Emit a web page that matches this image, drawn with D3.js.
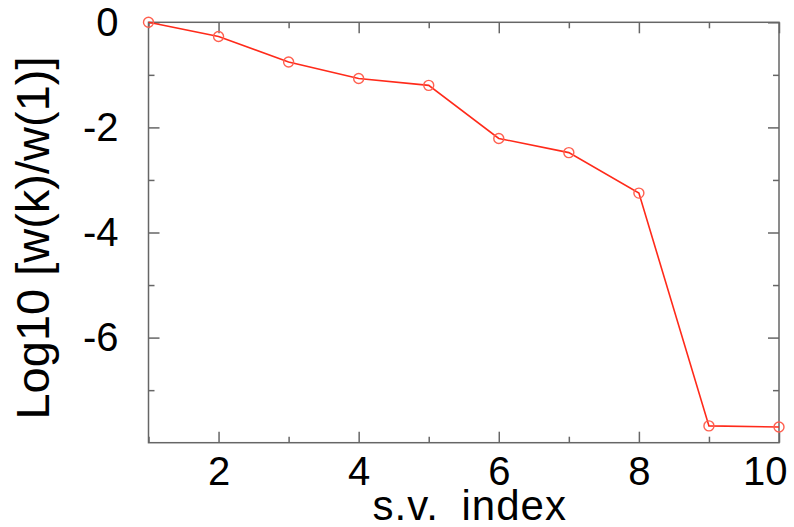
<!DOCTYPE html>
<html><head><meta charset="utf-8">
<script src="https://cdn.jsdelivr.net/npm/d3@7"></script>
<style>body{margin:0;background:#fff}svg{display:block}text{font-family:"Liberation Sans",Arial,sans-serif}</style>
</head><body><svg id="c" width="794" height="527"></svg>
<script>
const svIndex = [1,2,3,4,5,6,7,8,9,10];
const logRatio = [0,-0.27,-0.755,-1.07,-1.2,-2.21,-2.48,-3.25,-7.68,-7.70];
const xTicks = [2,4,6,8,10];
const xMinor = [1,3,5,7,9];
const yTicks = [0,-2,-4,-6];
const yMinor = [-1,-3,-5,-7];
const xLabel = "s.v. index";
const yLabel = "Log10 [w(k)/w(1)]";

const m = {l:148.5, r:779, t:22.3, b:442.7};
const svg = d3.select("#c");
const x = d3.scaleLinear().domain([1,10]).range([m.l,m.r]);
const y = d3.scaleLinear().domain([-8,0]).range([m.b,m.t]);
const axisCol = "#666";
const fmt = d => String(d);

function styleAxis(g){
  g.select(".domain").remove();
  g.selectAll(".tick line").attr("stroke",axisCol).attr("stroke-width",1.5);
}
// bottom
const bx = svg.append("g").attr("transform",`translate(0,${m.b})`)
  .call(d3.axisBottom(x).tickValues(xTicks).tickSize(-11).tickPadding(14).tickFormat(fmt))
  .call(styleAxis);
bx.selectAll("text").attr("font-size",40).attr("fill","#000");
bx.selectAll(".tick").filter(d=>d===10).select("text").attr("text-anchor","end").attr("x",8);
svg.append("g").attr("transform",`translate(0,${m.b})`)
  .call(d3.axisBottom(x).tickValues(xMinor).tickSize(-6).tickFormat(""))
  .call(styleAxis);
// top
svg.append("g").attr("transform",`translate(0,${m.t})`)
  .call(d3.axisTop(x).tickValues(xTicks).tickSize(-11).tickFormat(""))
  .call(styleAxis);
svg.append("g").attr("transform",`translate(0,${m.t})`)
  .call(d3.axisTop(x).tickValues(xMinor).tickSize(-6).tickFormat(""))
  .call(styleAxis);
// left
svg.append("g").attr("transform",`translate(${m.l},0)`)
  .call(d3.axisLeft(y).tickValues(yTicks).tickSize(-11).tickPadding(30).tickFormat(fmt))
  .call(styleAxis).selectAll("text").attr("font-size",40).attr("fill","#000");
svg.append("g").attr("transform",`translate(${m.l},0)`)
  .call(d3.axisLeft(y).tickValues(yMinor).tickSize(-6).tickFormat(""))
  .call(styleAxis);
// right
svg.append("g").attr("transform",`translate(${m.r},0)`)
  .call(d3.axisRight(y).tickValues(yTicks).tickSize(-11).tickFormat(""))
  .call(styleAxis);
svg.append("g").attr("transform",`translate(${m.r},0)`)
  .call(d3.axisRight(y).tickValues(yMinor).tickSize(-6).tickFormat(""))
  .call(styleAxis);
// frame
svg.append("rect").attr("x",m.l).attr("y",m.t).attr("width",m.r-m.l).attr("height",m.b-m.t)
  .attr("fill","none").attr("stroke",axisCol).attr("stroke-width",1.5);

// line
const data = svIndex.map((k,i)=>({k, v:logRatio[i]}));
svg.append("path").datum(data)
  .attr("d",d3.line().x(d=>x(d.k)).y(d=>y(d.v)))
  .attr("fill","none").attr("stroke","#ff2a1a").attr("stroke-width",1.6);
svg.selectAll("circle.pt").data(data).enter().append("circle")
  .attr("cx",d=>x(d.k)).attr("cy",d=>y(d.v)).attr("r",5)
  .attr("fill","none").attr("stroke","#ff6050").attr("stroke-width",1.4);

// labels
svg.append("text").attr("x",(m.l+m.r)/2+6).attr("y",520).attr("text-anchor","middle")
  .attr("font-size",42).attr("letter-spacing",1).attr("word-spacing",10).text(xLabel);
svg.append("text").attr("transform",`translate(49,238) rotate(-90)`)
  .attr("text-anchor","middle").attr("font-size",47).text(yLabel);
</script></body></html>
